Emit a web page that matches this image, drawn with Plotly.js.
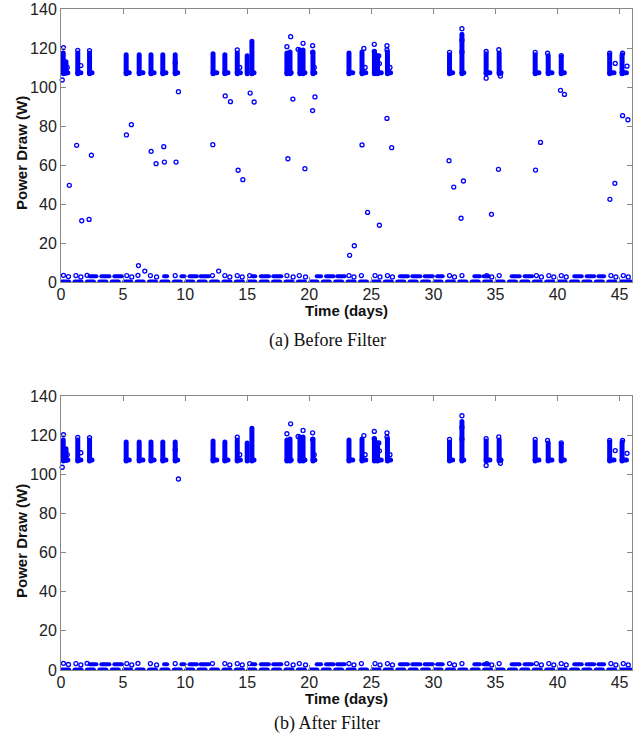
<!DOCTYPE html>
<html><head><meta charset="utf-8">
<script src="https://cdn.plot.ly/plotly-3.0.1.min.js"></script>
<style>html,body{margin:0;padding:0;background:#fff;}#chart{width:641px;height:736px;}
.js-line{stroke-linecap:round;stroke-linejoin:round;}</style>
</head><body><div id="chart"></div>
<script>
// ---- data (days, watts) ----
// dense "on" columns: x position, bottom and top of the column
const colX  = [0.18,0.4,1.35,2.3,5.25,6.3,7.25,8.2,9.2,12.25,13.2,14.2,15.0,15.38,18.2,18.45,19.25,19.5,20.3,23.2,24.25,25.25,25.5,26.3,31.3,32.3,34.25,35.3,38.2,39.25,40.3,44.2,45.2];
const colLo = [106.8,107,106.8,106.8,106.8,106.8,106.8,106.8,106.8,106.8,106.8,106.8,106.8,106.8,106.8,106.8,106.8,106.8,106.8,106.8,106.8,106.8,106.8,106.8,106.8,106.8,106.8,106.8,106.8,106.8,106.8,106.8,106.8];
const colHi = [117.5,113,117.5,117.5,116.5,116.5,116.5,116.5,116.5,117,116.5,117.5,116,123.5,117.5,118,119,119,118,117.5,118,118,116,118,116.5,127,117,117.5,116.5,116,115.5,116.5,116.5];
// "foot" of each on-period (settled draw)
const footX0 = [0.18,1.35,2.3,5.25,6.3,7.25,8.2,9.2,12.25,13.2,14.2,15.38,18.2,19.25,20.3,23.2,24.25,25.25,26.3,31.3,32.3,34.25,35.3,38.2,39.25,40.3,44.2,45.2];
const footX1 = [0.55,1.6,2.5,5.5,6.6,7.5,8.45,9.4,12.55,13.45,14.45,15.55,18.55,19.65,20.45,23.5,24.55,25.8,26.55,31.55,32.45,34.55,35.45,38.5,39.55,40.55,44.55,45.55];
const footY  = [107.3,107.3,107.3,107.3,107.3,107.3,107.3,107.3,107.3,107.3,107.3,107.3,107.3,107.3,107.3,107.3,107.3,107.3,107.3,107.3,107.3,107.3,107.3,107.3,107.3,107.3,107.3,107.3];
// individual readings around the on-periods
const spikeX = [0.2,0.1,0.5,1.35,1.6,2.3,9.2,14.2,14.4,18.5,18.2,19.5,19.1,20.27,20.27,20.4,24.4,24.5,25.24,25.24,25.6,25.65,26.26,26.26,26.5,31.3,32.3,32.3,32.3,34.25,34.25,35.27,35.4,38.2,39.2,40.3,44.2,44.65,45.24,45.6];
const spikeY = [120.2,103.6,110,118.8,111,118.7,112.5,119,110,125.8,120.7,122.4,119.3,121.2,117.8,110,119.8,110,121.9,118.2,116,112,121.2,119,110,117.8,129.9,124,118,118.2,104.5,119.1,105.6,117.8,117.3,116.1,117.3,112.1,117.3,110.7];
// transitional readings removed by the filter
const outX = [0.67,1.26,1.67,2.26,2.45,5.27,5.67,7.26,7.66,8.28,8.33,9.27,12.23,13.23,13.65,14.27,14.65,15.24,15.56,18.28,18.68,19.65,20.27,20.46,23.25,23.63,24.25,24.7,25.65,26.26,26.64,31.26,31.64,32.23,32.42,34.68,35.24,38.23,38.63,40.24,40.56,44.22,44.62,45.24,45.67,6.24,6.75,12.7];
const outY = [49.6,70.1,31.4,32.1,65,75.4,80.7,67,60.7,69.4,61.5,61.5,70.4,95.4,92.5,57.3,52.5,96.9,92.3,63.2,93.8,58.1,87.9,94.9,13.7,18.6,70.3,35.7,29.1,83.9,68.9,62.2,48.7,32.7,51.8,34.7,57.8,57.4,71.6,98.3,96.2,42.4,50.6,85.3,83.2,8.4,5.6,5.6];
// reading kept by the filter
const keptX = [9.46];
const keptY = [97.6];
// idle runs at 0 W
const zeroStart = [0.12,1.12,2.12,3.12,4.12,5.12,6.12,7.12,8.12,9.12,10.12,11.12,12.12,13.12,14.12,15.12,16.12,17.12,18.12,19.12,20.12,21.12,22.12,23.12,24.12,25.12,26.12,27.12,28.12,29.12,30.12,31.12,32.12,33.12,34.12,35.12,36.12,37.12,38.12,39.12,40.12,41.12,42.12,43.12,44.12,45.12];
const zeroEnd   = [0.62,1.62,2.62,3.62,4.62,5.62,6.62,7.62,8.62,9.62,10.62,11.62,12.62,13.62,14.62,15.62,16.62,17.62,18.62,19.62,20.62,21.62,22.62,23.62,24.62,25.62,26.62,27.62,28.62,29.62,30.62,31.62,32.62,33.62,34.62,35.62,36.62,37.62,38.62,39.62,40.62,41.62,42.62,43.62,44.62,45.9];
// standby runs at ~3 W
const sbStart = [2.3,3.25,4.3,8.3,9.7,10.35,11.25,15.4,16.1,17.1,20.6,21.35,22.25,27.3,28.3,29.3,30.3,33.3,34.05,36.3,37.35,41.35,42.35,43.3];
const sbEnd   = [2.85,3.9,4.9,8.55,9.95,10.95,11.9,15.65,16.75,17.75,20.95,21.95,22.85,27.95,28.95,29.95,30.75,33.75,34.45,36.95,37.95,41.95,42.95,43.75];
const sbLevel = 3.0;
// isolated standby readings
const sbX = [0.2,0.6,1.2,1.6,2.1,5.3,5.7,6.2,7.2,7.7,9.2,12.2,13.2,13.6,14.2,14.6,15.2,18.2,18.7,19.2,19.7,23.2,23.6,24.2,25.3,25.7,26.3,26.7,31.3,31.7,32.3,34.3,34.7,35.3,38.3,38.7,39.3,39.7,40.3,40.7,44.3,44.7,45.3,45.7];
const sbY = [3.4,2.8,3.3,2.6,3.4,3.3,2.6,3.4,3.3,2.6,3.3,3.3,3.3,2.6,3.3,2.6,3.3,3.3,2.6,3.3,2.6,3.3,2.6,3.3,3.3,2.6,3.3,2.6,3.3,2.6,3.3,3.3,2.6,3.3,3.3,2.6,3.3,2.6,3.3,2.6,3.3,2.6,3.3,2.6];

// ---- build traces ----
const BLUE = '#0000FF';
function segs(x0, x1, y0, y1) {
  const xs = [], ys = [];
  for (let i = 0; i < x0.length; i++) {
    xs.push(x0[i], x1[i], null);
    ys.push(y0[i], y1[i], null);
  }
  return {xs, ys};
}
function panel(xa, ya, withOutliers) {
  const t = [];
  const lineStyle = {color: BLUE, width: 5};
  const cols = segs(colX, colX, colLo, colHi);
  t.push({x: cols.xs, y: cols.ys, xaxis: xa, yaxis: ya, mode: 'lines', line: lineStyle, cliponaxis: false, hoverinfo: 'skip'});
  const feet = segs(footX0, footX1, footY, footY);
  t.push({x: feet.xs, y: feet.ys, xaxis: xa, yaxis: ya, mode: 'lines', line: lineStyle, cliponaxis: false, hoverinfo: 'skip'});
  const z = segs(zeroStart, zeroEnd, zeroStart.map(() => 0), zeroStart.map(() => 0));
  t.push({x: z.xs, y: z.ys, xaxis: xa, yaxis: ya, mode: 'lines', line: {color: BLUE, width: 5}, cliponaxis: false, hoverinfo: 'skip'});
  const s = segs(sbStart, sbEnd, sbStart.map(() => sbLevel), sbStart.map(() => sbLevel));
  t.push({x: s.xs, y: s.ys, xaxis: xa, yaxis: ya, mode: 'lines', line: {color: BLUE, width: 4}, cliponaxis: false, hoverinfo: 'skip'});
  const mk = {symbol: 'circle-open', size: 4, color: BLUE, line: {width: 1.3, color: BLUE}};
  t.push({x: spikeX, y: spikeY, xaxis: xa, yaxis: ya, mode: 'markers', marker: mk, cliponaxis: false});
  t.push({x: sbX, y: sbY, xaxis: xa, yaxis: ya, mode: 'markers', marker: mk, cliponaxis: false});
  t.push({x: keptX, y: keptY, xaxis: xa, yaxis: ya, mode: 'markers', marker: mk, cliponaxis: false});
  if (withOutliers) t.push({x: outX, y: outY, xaxis: xa, yaxis: ya, mode: 'markers', marker: mk, cliponaxis: false});
  return t;
}
const data = panel('x', 'y', true).concat(panel('x2', 'y2', false));

const FAM = 'Liberation Sans, Arial, sans-serif';
const tickFont = {family: FAM, size: 16, color: '#222'};
const titleFont = {family: FAM, size: 15, color: '#111', weight: 'bold'};
function xax(anchor) {
  return {anchor: anchor, domain: [0, 1], range: [0, 46], tickmode: 'linear', tick0: 0, dtick: 5,
    ticks: 'inside', ticklen: 5, tickcolor: '#888', linecolor: '#888', linewidth: 1, mirror: 'ticks',
    showgrid: false, zeroline: false, tickfont: tickFont, ticklabelstandoff: -2};
}
function yax(anchor, dom) {
  return {anchor: anchor, domain: dom, range: [0, 140], tickmode: 'linear', tick0: 0, dtick: 20,
    ticks: 'inside', ticklen: 5, tickcolor: '#888', linecolor: '#888', linewidth: 1, mirror: 'ticks',
    showgrid: false, zeroline: false, tickfont: tickFont};
}
const H = 661, B = 670, W = 571, L = 61;
const fy = py => (B - py) / H;
const fx = px => (px - L) / W;
const capFont = {family: 'Liberation Serif, Times New Roman, serif', size: 18, color: '#111'};
function ann(text, px, py, font, angle) {
  return {text: text, xref: 'paper', yref: 'paper', x: fx(px), y: fy(py), xanchor: 'center', yanchor: 'middle',
    showarrow: false, font: font, textangle: angle || 0};
}
const layout = {
  width: 641, height: 736, showlegend: false,
  margin: {l: 61, r: 9, t: 9, b: 66, autoexpand: false},
  paper_bgcolor: '#fff', plot_bgcolor: '#fff',
  xaxis: xax('y'), yaxis: yax('x', [fy(282), 1]),
  xaxis2: xax('y2'), yaxis2: yax('x2', [0, fy(396)]),
  annotations: [
    ann('Time (days)', 346, 310, titleFont),
    ann('Time (days)', 346, 698, titleFont),
    ann('Power Draw (W)', 21, 153, titleFont, -90),
    ann('Power Draw (W)', 21, 541, titleFont, -90),
    ann('(a) Before Filter', 327, 340, capFont),
    ann('(b) After Filter', 327, 724, capFont)
  ]
};
Plotly.newPlot('chart', data, layout, {staticPlot: true});
</script></body></html>
